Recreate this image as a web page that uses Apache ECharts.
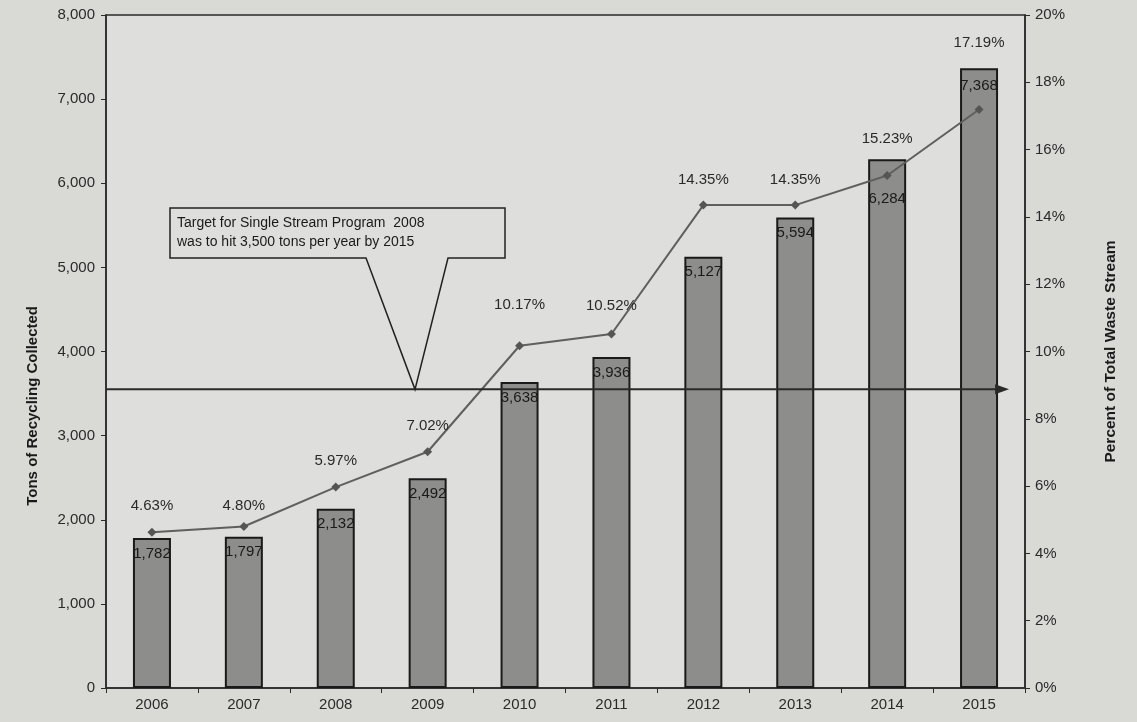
<!DOCTYPE html>
<html><head><meta charset="utf-8">
<script src="https://cdn.jsdelivr.net/npm/echarts@6/dist/echarts.min.js"></script>
<style>html,body{margin:0;padding:0;background:#d9d9d6;}#c{width:1137px;height:722px;}</style>
</head><body><div id="c"></div>
<script>
const years = ['2006','2007','2008','2009','2010','2011','2012','2013','2014','2015'];
const tons = [1782,1797,2132,2492,3638,3936,5127,5594,6284,7368];
const percent = [4.63,4.80,5.97,7.02,10.17,10.52,14.35,14.35,15.23,17.19];
const targetTons = 3550;
const calloutLines = ['Target for Single Stream Program  2008','was to hit 3,500 tons per year by 2015'];
const leftName = 'Tons of Recycling Collected';
const rightName = 'Percent of Total Waste Stream';

// label styling distances (style, not data)
const pctLabelDist = [14,9,14,14,29,16,13,13,25,55];
const barLabelDist = [8,8,8,8,8,8,8,8,32,10];

const FONT = 'Liberation Sans, Arial, sans-serif';
const chart = echarts.init(document.getElementById('c'));
const fmt = v => v.toLocaleString('en-US');

chart.setOption({
  backgroundColor:'#d9d9d6',
  animation:false,
  textStyle:{fontFamily:FONT},
  grid:{left:106,right:112,top:15,bottom:34,show:true,backgroundColor:'#dededc',borderColor:'#2a2a2a',borderWidth:1.5},
  xAxis:{type:'category',data:years,boundaryGap:true,
    axisLine:{lineStyle:{color:'#2a2a2a',width:1.5}},
    axisTick:{show:true,length:5,lineStyle:{color:'#2a2a2a'}},
    axisLabel:{color:'#2a2a2a',fontSize:15,margin:9,fontFamily:FONT}},
  yAxis:[
    {type:'value',min:0,max:8000,interval:1000,
     axisLine:{show:true,lineStyle:{color:'#2a2a2a',width:1.5}},
     axisTick:{show:true,length:5,lineStyle:{color:'#2a2a2a'}},
     splitLine:{show:false},
     axisLabel:{color:'#2a2a2a',fontSize:15,margin:11,formatter:v=>fmt(v),fontFamily:FONT}},
    {type:'value',min:0,max:20,interval:2,position:'right',
     name:rightName,nameLocation:'middle',nameGap:78,nameRotate:90,
     nameTextStyle:{color:'#1a1a1a',fontSize:15.5,fontWeight:'bold',fontFamily:FONT},
     axisLine:{show:true,lineStyle:{color:'#2a2a2a',width:1.5}},
     axisTick:{show:true,length:5,lineStyle:{color:'#2a2a2a'}},
     splitLine:{show:false},
     axisLabel:{color:'#2a2a2a',fontSize:15,margin:10,formatter:v=>v+'%',fontFamily:FONT}}
  ],
  series:[
    {type:'bar',yAxisIndex:0,barWidth:38,
     itemStyle:{color:'#8d8d8b',borderColor:'#1a1a1a',borderWidth:2},
     data:tons.map((v,i)=>({value:v,label:{distance:barLabelDist[i]}})),
     label:{show:true,position:'insideTop',color:'#1a1a1a',fontSize:15,formatter:p=>fmt(p.value),fontFamily:FONT},
     z:2},
    {type:'line',yAxisIndex:1,symbol:'diamond',symbolSize:9,
     lineStyle:{color:'#5f5f5f',width:2},itemStyle:{color:'#555'},
     data:percent.map((v,i)=>({value:v,label:{distance:pctLabelDist[i]}})),
     label:{show:true,position:'top',color:'#2a2a2a',fontSize:15,formatter:p=>p.value.toFixed(2)+'%',fontFamily:FONT},
     z:3}
  ]
});

function drawAnnotations(){
  const y = chart.convertToPixel({yAxisIndex:0}, targetTons);
  const x0 = chart.convertToPixel({xAxisIndex:0}, years[0]) - 46;
  const xEnd = chart.convertToPixel({xAxisIndex:0}, years[years.length-1]) + 30;
  const tipX = 415;
  const bx0=170,bx1=505,by0=208,by1=258;
  chart.setOption({graphic:[
    {type:'line',z:10,shape:{x1:x0,y1:y,x2:xEnd-10,y2:y},style:{stroke:'#2a2a2a',lineWidth:2}},
    {type:'polygon',z:10,shape:{points:[[xEnd,y],[xEnd-14,y-5],[xEnd-14,y+5]]},style:{fill:'#2a2a2a'}},
    {type:'polygon',z:11,shape:{points:[[bx0,by0],[bx1,by0],[bx1,by1],[448,by1],[tipX,y],[366,by1],[bx0,by1]]},
     style:{fill:'#dededc',stroke:'#222',lineWidth:1.5}},
    {type:'text',z:12,left:177,top:214,style:{text:calloutLines.join('\n'),font:'14px '+FONT,fill:'#1a1a1a',lineHeight:19}},
    {type:'text',z:12,left:25,top:306,rotation:Math.PI/2,
     style:{text:leftName,font:'bold 15px '+FONT,fill:'#1a1a1a'}}
  ]});
}
drawAnnotations();
</script>
</body></html>
